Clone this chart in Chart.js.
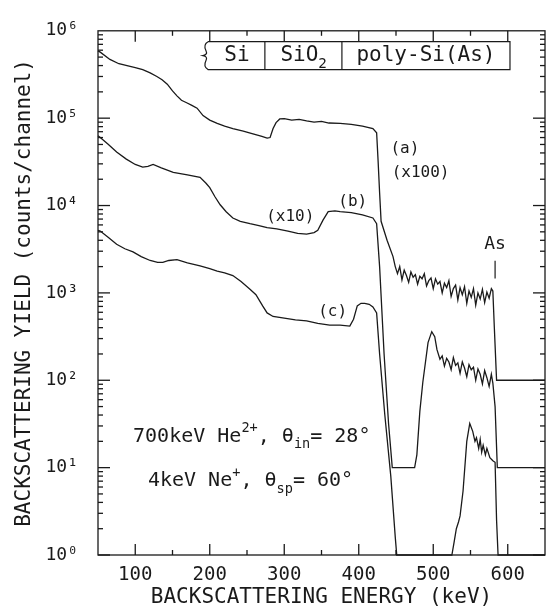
<!DOCTYPE html>
<html>
<head>
<meta charset="utf-8">
<script src="https://cdn.jsdelivr.net/npm/chart.js@4.4.1/dist/chart.umd.min.js"></script>
<style>
  html, body { margin: 0; padding: 0; background: #fff; }
</style>
</head>
<body>
<canvas id="chart" width="550" height="616"></canvas>
<script>
// backscattering spectra (energy in keV, counts/channel)
const energyA = [50,53,66,78,89,100,110,120,129,136,143,150,156,162,169,176,183,191,200,210,
  220,231,245,258,270,277,281,285,289,294,300,310,320,330,340,350,360,375,390,405,
  419,424,426,428,430,438,446,449,
  452,455,458,461,464,467,470,473,476,479,482,485,488,491,494,497,500,503,506,509,
  512,515,518,521,524,527,530,533,536,539,542,545,548,551,554,557,560,563,566,569,
  572,575,578,580,582,585,650];
const countsA = [590000,570000,470000,420000,400000,380000,360000,330000,300000,275000,
  245000,205000,180000,160000,150000,140000,130000,107000,95000,87000,
  81000,76000,71000,66000,62000,59000,60000,76000,89000,98000,
  99000,95000,97000,93000,90000,92000,88000,87000,85000,81000,
  76000,68000,32000,14000,6600,4000,2600,2000,
  1660,2000,1410,1820,1580,1320,1740,1510,1620,1260,1550,1450,1660,1200,1380,1480,1120,1450,1260,1350,
  1000,1290,1150,1380,910,1120,1230,830,1150,955,1175,760,1050,890,1120,725,1000,850,1100,775,
  1020,870,1120,1050,400,100,100];

const energyB = [50,53,64,75,88,100,110,117,124,135,151,170,187,195,200,207,214,222,231,241,
  254,266,277,290,305,318,330,340,345,352,359,368,375,390,405,419,424,428,434,440,
  445,475,478,482,486,493,498,502,505,509,
  512,515,518,521,524,527,530,533,536,539,542,545,548,551,554,557,560,563,566,569,
  572,575,578,580,583,586,650];
const countsB = [63000,60000,50000,41000,34000,29500,27500,28000,29500,27000,
  24000,22400,21000,18000,16000,12600,10200,8500,7200,6600,
  6200,5900,5600,5400,5100,4800,4700,4900,5200,6800,
  8500,8700,8500,8300,7800,7200,6200,2000,200,32,
  10,10,14,44,95,270,360,316,224,174,
  190,145,178,162,132,182,148,158,120,162,138,110,151,132,141,100,135,117,91,129,
  107,85,117,93,50,10,10];

const energyC = [50,53,64,75,86,97,108,120,130,137,145,156,170,187,200,210,220,231,242,254,
  262,271,277,285,300,315,330,345,361,375,388,393,398,403,408,414,419,424,428,435,
  443,449,451,525,528,531,534,536,540,545,549,553,556,558,561,563,565,567,570,572,
  576,580,583,585,587,650];
const countsC = [5200,5100,4300,3600,3200,2950,2600,2350,2240,2240,
  2350,2400,2200,2040,1900,1780,1700,1580,1350,1100,
  955,710,590,537,513,490,479,447,427,427,
  417,500,710,760,760,740,690,590,200,40,
  8,1.6,1,1,1.4,2,2.4,2.8,5.4,20,
  32,26,20,22,16.6,21,15,18,14,16.6,
  13,12,11.5,2.5,1,1];

const xTickValues = [100, 200, 300, 400, 500, 600];
const yTickValues = [1, 10, 100, 1000, 10000, 100000, 1000000];

const FONT = '"DejaVu Sans Mono", monospace';
const INK = "#1a1a1a";
const SUP = { 0: "⁰", 1: "¹", 2: "²", 3: "³", 4: "⁴", 5: "⁵", 6: "⁶" };

function pts(e, c) {
  return e.map((v, i) => ({ x: v, y: c[i] }));
}

function line(ctx, x1, y1, x2, y2) {
  ctx.beginPath();
  ctx.moveTo(x1, y1);
  ctx.lineTo(x2, y2);
  ctx.stroke();
}

// text with sub/superscript parts: [text, 0 | 1 (sup) | -1 (sub)]
function rich(ctx, x, y, parts, size) {
  let cx = x;
  ctx.textAlign = "left";
  ctx.textBaseline = "middle";
  for (const [s, m] of parts) {
    const fs = m ? size * 0.68 : size;
    ctx.font = fs + "px " + FONT;
    const dy = m === 1 ? -size * 0.38 : m === -1 ? size * 0.4 : 0;
    ctx.fillText(s, cx, y + dy);
    cx += ctx.measureText(s).width;
  }
}

const decor = {
  id: "decor",
  afterDatasetsDraw(chart) {
    const { ctx, chartArea: a, scales } = chart;
    const x = scales.x, y = scales.y;
    ctx.save();
    ctx.strokeStyle = INK;
    ctx.fillStyle = INK;
    ctx.lineWidth = 1.3;
    ctx.strokeRect(a.left, a.top, a.right - a.left, a.bottom - a.top);

    // inward ticks on all four sides
    for (let v = 100; v <= 600; v += 50) {
      const px = x.getPixelForValue(v);
      const L = v % 100 === 0 ? 11 : 5;
      line(ctx, px, a.bottom, px, a.bottom - L);
      line(ctx, px, a.top, px, a.top + L);
    }
    for (let d = 0; d < 6; d++) {
      for (let m = 1; m <= 9; m++) {
        const py = y.getPixelForValue(m * Math.pow(10, d));
        const L = m === 1 ? 12 : 5;
        line(ctx, a.left, py, a.left + L, py);
        line(ctx, a.right, py, a.right - L, py);
      }
    }

    // layer box at the top
    const L = x.getPixelForValue(193.6), R = x.getPixelForValue(603);
    const d1 = x.getPixelForValue(274), d2 = x.getPixelForValue(377.4);
    const T = y.getPixelForValue(7.5e5), B = y.getPixelForValue(3.6e5);
    ctx.lineWidth = 1.2;
    ctx.beginPath();
    ctx.moveTo(L + 3, T);
    ctx.lineTo(R, T);
    ctx.lineTo(R, B);
    ctx.lineTo(L + 3, B);
    ctx.quadraticCurveTo(L - 2, B - 3, L + 1, B - 9);
    ctx.quadraticCurveTo(L + 3, B - 13, L - 2, B - 14);
    ctx.quadraticCurveTo(L + 3, T + 13, L + 1, T + 9);
    ctx.quadraticCurveTo(L - 2, T + 3, L + 3, T);
    ctx.stroke();
    line(ctx, d1, T, d1, B);
    line(ctx, d2, T, d2, B);
    const mid = (T + B) / 2;
    ctx.textAlign = "center";
    ctx.textBaseline = "middle";
    ctx.font = "21px " + FONT;
    ctx.fillText("Si", (L + d1) / 2 + 2, mid);
    ctx.fillText("poly-Si(As)", (d2 + R) / 2, mid);
    const w = ctx.measureText("SiO").width + 8;
    rich(ctx, (d1 + d2) / 2 - w / 2, mid, [["SiO", 0], ["2", -1]], 21);

    // curve labels
    ctx.textAlign = "center";
    ctx.textBaseline = "middle";
    ctx.font = "16px " + FONT;
    const labels = [
      ["(a)", 462, 4.5e4], ["(x100)", 483, 2.36e4], ["(b)", 392, 1.11e4],
      ["(x10)", 308, 7.5e3], ["(c)", 365, 600]
    ];
    for (const [t, e, c] of labels) {
      ctx.fillText(t, x.getPixelForValue(e), y.getPixelForValue(c));
    }
    ctx.font = "18px " + FONT;
    ctx.fillText("As", x.getPixelForValue(583), y.getPixelForValue(3.6e3));
    line(ctx, x.getPixelForValue(583), y.getPixelForValue(2330),
      x.getPixelForValue(583), y.getPixelForValue(1460));

    // beam conditions
    rich(ctx, x.getPixelForValue(97), y.getPixelForValue(22.7),
      [["700keV He", 0], ["2+", 1], [", ", 0], ["θ", 0], ["in", -1], ["= 28°", 0]], 20);
    rich(ctx, x.getPixelForValue(117), y.getPixelForValue(7.0),
      [["4keV Ne", 0], ["+", 1], [", ", 0], ["θ", 0], ["sp", -1], ["= 60°", 0]], 20);
    ctx.restore();
  }
};

const curve = (e, c) => ({
  data: pts(e, c),
  borderColor: INK,
  borderWidth: 1.3,
  pointRadius: 0,
  tension: 0,
  fill: false,
  clip: 3
});

new Chart(document.getElementById("chart"), {
  type: "line",
  data: {
    datasets: [curve(energyA, countsA), curve(energyB, countsB), curve(energyC, countsC)]
  },
  options: {
    responsive: false,
    animation: false,
    layout: { padding: { top: 24, right: 5, left: 0, bottom: 0 } },
    plugins: { legend: { display: false }, tooltip: { enabled: false } },
    scales: {
      x: {
        type: "linear",
        min: 50,
        max: 650,
        afterBuildTicks: (s) => { s.ticks = xTickValues.map((v) => ({ value: v })); },
        afterFit: (s) => { s.height = 61; },
        grid: { display: false, drawTicks: false },
        border: { display: false },
        ticks: { color: INK, padding: 9, font: { family: FONT, size: 19 }, maxRotation: 0 },
        title: {
          display: true,
          text: "BACKSCATTERING ENERGY (keV)",
          color: INK,
          font: { family: FONT, size: 21 },
          padding: { top: 0, bottom: 6 }
        }
      },
      y: {
        type: "logarithmic",
        min: 1,
        max: 1000000,
        afterBuildTicks: (s) => { s.ticks = yTickValues.map((v) => ({ value: v })); },
        afterFit: (s) => { s.width = 98; },
        grid: { display: false, drawTicks: false },
        border: { display: false },
        ticks: {
          color: INK,
          padding: 20,
          font: { family: FONT, size: 18 },
          callback: (v) => "10" + SUP[Math.round(Math.log10(v))]
        },
        title: {
          display: true,
          text: "BACKSCATTERING YIELD (counts/channel)",
          color: INK,
          font: { family: FONT, size: 21 },
          padding: { top: 12, bottom: 0 }
        }
      }
    }
  },
  plugins: [decor]
});
</script>
</body>
</html>
